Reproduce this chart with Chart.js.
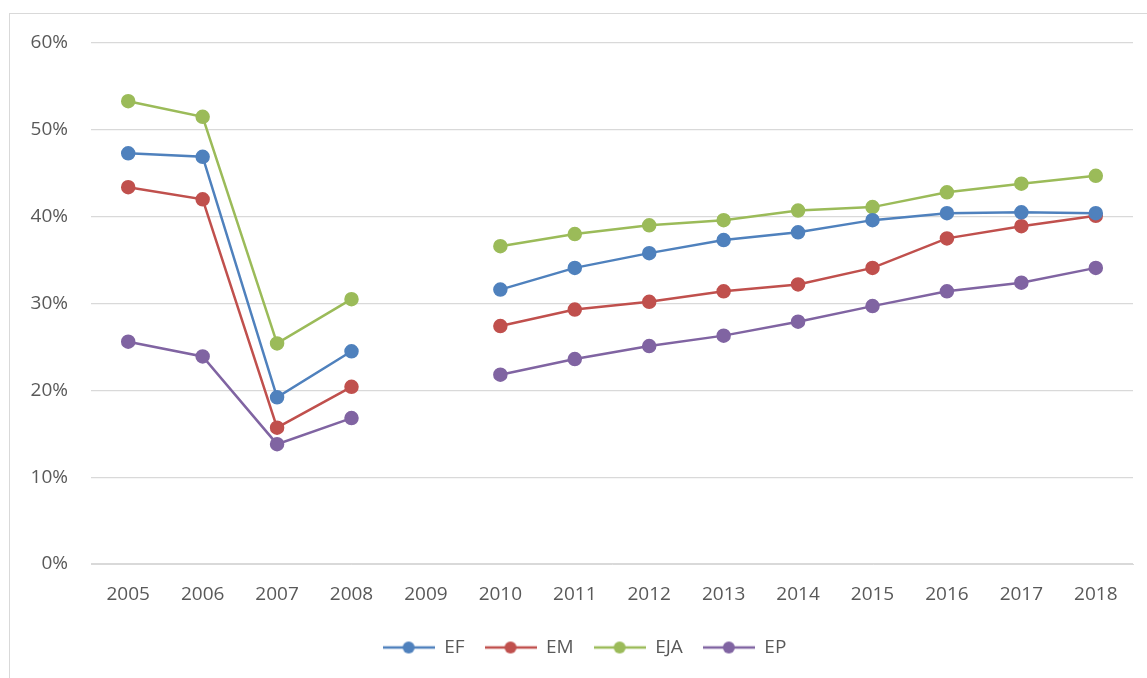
<!DOCTYPE html>
<html>
<head>
<meta charset="utf-8">
<script src="https://cdn.jsdelivr.net/npm/chart.js@4"></script>
<style>
  html, body { margin: 0; padding: 0; background: #fff; }
  #wrap { position: relative; width: 1147px; height: 678px; }
  #frame { position: absolute; left: 9px; top: 13px; width: 1150px; height: 680px; border: 1px solid #d9d9d9; box-sizing: border-box; }
  canvas { position: absolute; left: 0; top: 0; }
</style>
</head>
<body>
<div id="wrap">
  <div id="frame"></div>
  <canvas id="c" width="1147" height="678"></canvas>
</div>
<script>
const categories = ['2005','2006','2007','2008','2009','2010','2011','2012','2013','2014','2015','2016','2017','2018'];
const EF  = [47.3, 46.9, 19.2, 24.5, null, 31.6, 34.1, 35.8, 37.3, 38.2, 39.6, 40.4, 40.5, 40.4];
const EM  = [43.4, 42.0, 15.7, 20.4, null, 27.4, 29.3, 30.2, 31.4, 32.2, 34.1, 37.5, 38.9, 40.1];
const EJA = [53.3, 51.5, 25.4, 30.5, null, 36.6, 38.0, 39.0, 39.6, 40.7, 41.1, 42.8, 43.8, 44.7];
const EP  = [25.6, 23.9, 13.8, 16.8, null, 21.8, 23.6, 25.1, 26.3, 27.9, 29.7, 31.4, 32.4, 34.1];
const yTicks = [0, 10, 20, 30, 40, 50, 60];

const series = [
  { label: 'EF',  data: EF,  color: '#4F81BD' },
  { label: 'EM',  data: EM,  color: '#C0504D' },
  { label: 'EJA', data: EJA, color: '#9BBB59' },
  { label: 'EP',  data: EP,  color: '#8064A2' }
];

function legendIcon(color) {
  const cv = document.createElement('canvas');
  cv.width = 52; cv.height = 14;
  const g = cv.getContext('2d');
  g.strokeStyle = color; g.lineWidth = 2.5;
  g.beginPath(); g.moveTo(0, 7); g.lineTo(52, 7); g.stroke();
  g.fillStyle = color;
  g.beginPath(); g.arc(26, 7, 6, 0, Math.PI * 2); g.fill();
  return cv;
}
const icons = series.map(s => legendIcon(s.color));

const shiftLegend = {
  id: 'shiftLegend',
  afterLayout(chart) {
    if (chart.legend) { chart.legend.left += 18; chart.legend.right += 18; }
  }
};

new Chart(document.getElementById('c'), {
  type: 'line',
  plugins: [shiftLegend],
  data: {
    labels: categories,
    datasets: series.map(s => ({
      label: s.label,
      data: s.data,
      borderColor: s.color,
      backgroundColor: s.color,
      pointBackgroundColor: s.color,
      pointBorderColor: s.color,
      borderWidth: 2.5,
      pointRadius: 6,
      pointHoverRadius: 6,
      spanGaps: false,
      tension: 0
    }))
  },
  options: {
    responsive: false,
    animation: false,
    layout: { padding: { top: 43, right: 14, left: 0, bottom: 11 } },
    plugins: {
      tooltip: { enabled: false },
      legend: {
        position: 'bottom',
        labels: {
          usePointStyle: true,
          pointStyleWidth: 52,
          color: '#595959',
          font: { family: 'Open Sans', size: 19 },
          padding: 20,
          generateLabels: (chart) => chart.data.datasets.map((d, i) => ({
            text: d.label,
            fillStyle: d.borderColor,
            strokeStyle: d.borderColor,
            fontColor: '#595959',
            pointStyle: icons[i],
            datasetIndex: i,
            hidden: false,
            lineWidth: 0
          }))
        }
      }
    },
    scales: {
      x: {
        offset: true,
        grid: { display: false, drawTicks: false },
        border: { display: true, color: '#d9d9d9', width: 1 },
        ticks: { color: '#595959', font: { family: 'Open Sans', size: 19 }, padding: 19, maxRotation: 0, autoSkip: false },
        afterFit: (s) => { s.height = 54; }
      },
      y: {
        min: 0, max: 60,
        afterBuildTicks: (s) => { s.ticks = yTicks.map(v => ({ value: v })); },
        grid: { color: '#d9d9d9', lineWidth: 1.3, drawTicks: false },
        border: { display: false },
        ticks: { color: '#595959', font: { family: 'Open Sans', size: 19 }, padding: 23, callback: (v) => v + '%' },
        afterFit: (s) => { s.width = 91; }
      }
    }
  }
});
</script>
</body>
</html>
